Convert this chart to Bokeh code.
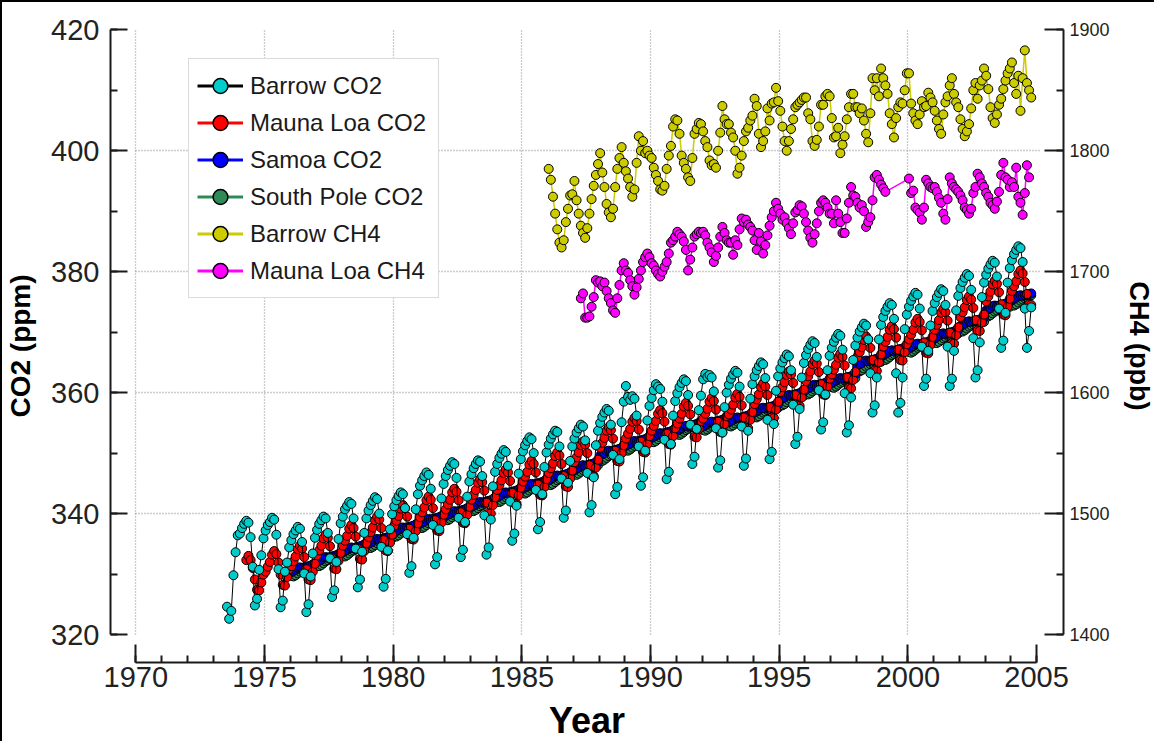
from bokeh.plotting import figure
from bokeh.models import (Range1d, LinearAxis, SingleIntervalTicker, FixedTicker,
                          Legend, LegendItem)
from bokeh.embed import file_html
from bokeh.resources import INLINE

N = None

# ---------------- data: monthly values, rows = [year, Jan..Dec] ----------------
barrow_co2 = [
 [1973, N, N, N, N, N, N, 324.6, 322.6, 323.9, 329.8, 333.6, 336.4],
 [1974, 336.7, 337.6, 338.3, 338.8, 338.5, 336.1, 331.2, 324.8, 325.9, 330.7, 333.1, 335.9],
 [1975, 337.2, 338.1, 338.6, 339.3, 339.0, 336.5, 330.8, 324.5, 325.6, 330.4, 331.9, 334.4],
 [1976, 335.6, 336.6, 337.2, 337.8, 337.5, 335.3, 330.1, 323.7, 325.0, 329.6, 333.4, 336.0],
 [1977, 337.3, 338.3, 338.9, 339.5, 339.2, 336.8, 332.6, 326.2, 327.3, 332.0, 335.8, 338.4],
 [1978, 339.5, 340.7, 341.3, 341.9, 341.6, 339.2, 334.2, 327.8, 329.1, 333.7, 336.8, 339.2],
 [1979, 340.5, 341.4, 342.1, 342.7, 342.4, 340.0, 334.5, 327.9, 329.2, 333.9, 337.4, 339.9],
 [1980, 341.2, 342.2, 342.9, 343.5, 343.2, 340.9, 336.6, 330.2, 331.3, 336.0, 340.7, 343.2],
 [1981, 344.6, 345.5, 346.2, 346.8, 346.4, 344.1, 338.1, 331.6, 332.8, 337.4, 342.5, 344.9],
 [1982, 346.2, 347.2, 347.9, 348.5, 348.2, 345.9, 339.3, 332.8, 334.0, 338.6, 342.8, 345.3],
 [1983, 346.5, 347.5, 348.2, 348.8, 348.6, 346.2, 339.7, 333.2, 334.4, 339.0, 344.5, 346.9],
 [1984, 348.2, 349.2, 349.9, 350.5, 350.2, 347.9, 342.0, 335.5, 336.7, 341.3, 346.6, 349.0],
 [1985, 350.3, 351.3, 352.0, 352.6, 352.3, 350.0, 343.9, 337.4, 338.6, 343.2, 347.7, 350.1],
 [1986, 351.4, 352.4, 353.1, 353.7, 353.5, 351.1, 345.8, 339.3, 340.5, 345.1, 348.7, 351.1],
 [1987, 352.4, 353.4, 354.1, 354.7, 354.4, 352.1, 346.7, 340.2, 341.4, 346.0, 351.3, 353.7],
 [1988, 355.0, 356.0, 356.7, 357.3, 357.0, 354.7, 349.7, 343.2, 344.4, 349.0, 355.1, 358.5],
 [1989, 361.1, 359.3, 358.8, 359.4, 359.0, 356.2, 351.1, 344.6, 346.0, 350.4, 355.4, 357.8],
 [1990, 359.1, 360.4, 361.4, 361.0, 360.6, 358.5, 352.2, 345.7, 346.9, 351.5, 356.2, 358.6],
 [1991, 359.9, 360.9, 361.6, 362.2, 361.9, 359.6, 354.7, 348.2, 349.4, 354.0, 357.1, 359.5],
 [1992, 362.2, 363.1, 362.6, 362.9, 362.5, 360.2, 354.1, 347.6, 348.8, 353.4, 357.6, 360.0],
 [1993, 361.3, 362.3, 363.0, 363.6, 363.3, 361.0, 354.4, 347.9, 349.1, 353.7, 359.0, 361.4],
 [1994, 362.7, 363.7, 364.4, 365.0, 364.7, 362.4, 355.5, 349.0, 350.2, 354.8, 360.3, 362.7],
 [1995, 364.0, 365.0, 365.7, 366.3, 366.0, 363.7, 358.0, 351.5, 352.7, 357.3, 362.5, 364.9],
 [1996, 366.2, 367.2, 367.9, 368.5, 368.2, 365.9, 360.4, 353.9, 355.1, 359.7, 363.7, 366.1],
 [1997, 367.4, 368.4, 369.1, 369.7, 369.4, 367.1, 359.9, 353.4, 354.6, 359.2, 365.4, 367.8],
 [1998, 369.1, 370.1, 370.8, 371.4, 371.1, 368.8, 363.2, 356.7, 357.9, 362.5, 368.8, 371.2],
 [1999, 372.5, 373.5, 374.2, 374.8, 374.5, 372.2, 363.2, 356.7, 358.3, 362.5, 370.5, 372.9],
 [2000, 374.2, 375.2, 375.9, 376.5, 376.2, 373.9, 367.6, 361.1, 362.3, 366.9, 371.1, 373.5],
 [2001, 374.8, 375.8, 376.5, 377.1, 376.8, 374.5, 367.6, 361.1, 362.3, 366.9, 373.6, 376.0],
 [2002, 377.3, 378.3, 379.0, 379.6, 379.3, 377.0, 369.0, 362.5, 363.7, 368.3, 375.8, 378.2],
 [2003, 379.5, 380.5, 381.2, 381.8, 381.5, 379.2, 373.9, 367.4, 368.6, 373.2, 378.2, 380.6],
 [2004, 381.9, 382.9, 383.6, 384.2, 383.9, 381.6, 373.9, 367.4, 370.2, 374.1, N, N],
]

mauna_loa_co2 = [
 [1974, N, N, N, 332.3, 333.0, 332.3, 331.0, 329.1, 327.4, 327.3, 328.6, 329.9],
 [1975, 330.4, 331.2, 332.0, 333.2, 333.8, 333.3, 331.9, 329.9, 328.2, 328.1, 329.5, 330.8],
 [1976, 331.3, 332.1, 332.9, 334.1, 334.7, 334.2, 332.8, 330.8, 329.1, 329.0, 330.4, 331.7],
 [1977, 333.1, 333.9, 334.7, 335.9, 336.5, 336.0, 334.6, 332.6, 330.9, 330.8, 332.2, 333.5],
 [1978, 334.7, 335.5, 336.3, 337.5, 338.1, 337.6, 336.2, 334.2, 332.5, 332.4, 333.8, 335.1],
 [1979, 336.1, 336.9, 337.7, 338.9, 339.5, 339.0, 337.6, 335.6, 333.9, 333.8, 335.2, 336.5],
 [1980, 338.0, 338.8, 339.6, 340.8, 341.4, 340.9, 339.5, 337.5, 335.8, 335.7, 337.1, 338.4],
 [1981, 339.4, 340.2, 341.0, 342.2, 342.8, 342.3, 340.9, 338.9, 337.2, 337.1, 338.5, 339.8],
 [1982, 340.7, 341.5, 342.3, 343.5, 344.1, 343.6, 342.2, 340.2, 338.5, 338.4, 339.8, 341.1],
 [1983, 342.3, 343.1, 343.9, 345.1, 345.7, 345.2, 343.8, 341.8, 340.1, 340.0, 341.4, 342.7],
 [1984, 343.9, 344.7, 345.5, 346.7, 347.3, 346.8, 345.4, 343.4, 341.7, 341.6, 343.0, 344.3],
 [1985, 345.3, 346.1, 346.9, 348.1, 348.7, 348.2, 346.8, 344.8, 343.1, 343.0, 344.4, 345.7],
 [1986, 346.7, 347.5, 348.3, 349.5, 350.1, 349.6, 348.2, 346.2, 344.5, 344.4, 345.8, 347.1],
 [1987, 348.5, 349.3, 350.1, 351.3, 351.9, 351.4, 350.0, 348.0, 346.3, 346.2, 347.6, 348.9],
 [1988, 350.9, 351.7, 352.5, 353.7, 354.3, 353.8, 352.4, 350.4, 348.7, 348.6, 350.0, 351.3],
 [1989, 352.4, 353.2, 354.0, 355.2, 355.8, 355.3, 353.9, 351.9, 350.2, 350.1, 351.5, 352.8],
 [1990, 353.7, 354.5, 355.3, 356.5, 357.1, 356.6, 355.2, 353.2, 351.5, 351.4, 352.8, 354.1],
 [1991, 354.9, 355.7, 356.5, 357.7, 358.3, 357.8, 356.4, 354.4, 352.7, 352.6, 354.0, 355.3],
 [1992, 355.7, 356.5, 357.3, 358.5, 359.1, 358.6, 357.2, 355.2, 353.5, 353.4, 354.8, 356.1],
 [1993, 356.4, 357.2, 358.0, 359.2, 359.8, 359.3, 357.9, 355.9, 354.2, 354.1, 355.5, 356.8],
 [1994, 358.1, 358.9, 359.7, 360.9, 361.5, 361.0, 359.6, 357.6, 355.9, 355.8, 357.2, 358.5],
 [1995, 360.1, 360.9, 361.7, 362.9, 363.5, 363.0, 361.6, 359.6, 357.9, 357.8, 359.2, 360.5],
 [1996, 361.9, 362.7, 363.5, 364.7, 365.3, 364.8, 363.4, 361.4, 359.7, 359.6, 361.0, 362.3],
 [1997, 363.0, 363.8, 364.6, 365.8, 366.4, 365.9, 364.5, 362.5, 360.8, 360.7, 362.1, 363.4],
 [1998, 365.9, 366.7, 367.5, 368.7, 369.3, 368.8, 367.4, 365.4, 363.7, 363.6, 365.0, 366.3],
 [1999, 367.6, 368.4, 369.2, 370.4, 371.0, 370.5, 369.1, 367.1, 365.4, 365.3, 366.7, 368.0],
 [2000, 368.8, 369.6, 370.4, 371.6, 372.2, 371.7, 370.3, 368.3, 366.6, 366.5, 367.9, 369.2],
 [2001, 370.4, 371.2, 372.0, 373.2, 373.8, 373.3, 371.9, 369.9, 368.2, 368.1, 369.5, 370.8],
 [2002, 372.5, 373.3, 374.1, 375.3, 375.9, 375.4, 374.0, 372.0, 370.3, 370.2, 371.6, 372.9],
 [2003, 375.1, 375.9, 376.7, 377.9, 378.5, 378.0, 376.6, 374.6, 372.9, 372.8, 374.2, 375.5],
 [2004, 376.8, 377.6, 378.4, 379.6, 380.2, 379.7, 378.3, 376.3, 374.6, 374.5, N, N],
]

samoa_co2 = [
 [1976, 330.3, 330.5, 330.7, 331.0, 331.1, 331.0, 331.1, 331.2, 331.3, 331.4, 331.6, 331.7],
 [1977, 332.0, 332.2, 332.4, 332.7, 332.8, 332.7, 332.8, 332.9, 333.0, 333.1, 333.3, 333.4],
 [1978, 333.6, 333.8, 334.0, 334.3, 334.4, 334.3, 334.4, 334.5, 334.6, 334.7, 334.9, 335.0],
 [1979, 335.0, 335.2, 335.4, 335.7, 335.8, 335.7, 335.8, 335.9, 336.0, 336.1, 336.3, 336.4],
 [1980, 336.9, 337.1, 337.3, 337.6, 337.7, 337.6, 337.7, 337.8, 337.9, 338.0, 338.2, 338.3],
 [1981, 338.3, 338.5, 338.7, 339.0, 339.1, 339.0, 339.1, 339.2, 339.3, 339.4, 339.6, 339.7],
 [1982, 339.6, 339.8, 340.0, 340.3, 340.4, 340.3, 340.4, 340.5, 340.6, 340.7, 340.9, 341.0],
 [1983, 341.1, 341.3, 341.5, 341.8, 341.9, 341.8, 341.9, 342.0, 342.1, 342.2, 342.4, 342.5],
 [1984, 342.7, 342.9, 343.1, 343.4, 343.5, 343.4, 343.5, 343.6, 343.7, 343.8, 344.0, 344.1],
 [1985, 344.1, 344.3, 344.5, 344.8, 344.9, 344.8, 344.9, 345.0, 345.1, 345.2, 345.4, 345.5],
 [1986, 345.5, 345.7, 345.9, 346.2, 346.3, 346.2, 346.3, 346.4, 346.5, 346.6, 346.8, 346.9],
 [1987, 347.2, 347.4, 347.6, 347.9, 348.0, 347.9, 348.0, 348.1, 348.2, 348.3, 348.5, 348.6],
 [1988, 349.6, 349.8, 350.0, 350.3, 350.4, 350.3, 350.4, 350.5, 350.6, 350.7, 350.9, 351.0],
 [1989, 351.2, 351.4, 351.6, 351.9, 352.0, 351.9, 352.0, 352.1, 352.2, 352.3, 352.5, 352.6],
 [1990, 352.5, 352.7, 352.9, 353.2, 353.3, 353.2, 353.3, 353.4, 353.5, 353.6, 353.8, 353.9],
 [1991, 353.7, 353.9, 354.1, 354.4, 354.5, 354.4, 354.5, 354.6, 354.7, 354.8, 355.0, 355.1],
 [1992, 354.4, 354.6, 354.8, 355.1, 355.2, 355.1, 355.2, 355.3, 355.4, 355.5, 355.7, 355.8],
 [1993, 355.1, 355.3, 355.5, 355.8, 355.9, 355.8, 355.9, 356.0, 356.1, 356.2, 356.4, 356.5],
 [1994, 356.7, 356.9, 357.1, 357.4, 357.5, 357.4, 357.5, 357.6, 357.7, 357.8, 358.0, 358.1],
 [1995, 358.8, 359.0, 359.2, 359.5, 359.6, 359.5, 359.6, 359.7, 359.8, 359.9, 360.1, 360.2],
 [1996, 360.5, 360.7, 360.9, 361.2, 361.3, 361.2, 361.3, 361.4, 361.5, 361.6, 361.8, 361.9],
 [1997, 361.6, 361.8, 362.0, 362.3, 362.4, 362.3, 362.4, 362.5, 362.6, 362.7, 362.9, 363.0],
 [1998, 364.5, 364.7, 364.9, 365.2, 365.3, 365.2, 365.3, 365.4, 365.5, 365.6, 365.8, 365.9],
 [1999, 366.2, 366.4, 366.6, 366.9, 367.0, 366.9, 367.0, 367.1, 367.2, 367.3, 367.5, 367.6],
 [2000, 367.3, 367.5, 367.7, 368.0, 368.1, 368.0, 368.1, 368.2, 368.3, 368.4, 368.6, 368.7],
 [2001, 369.0, 369.2, 369.4, 369.7, 369.8, 369.7, 369.8, 369.9, 370.0, 370.1, 370.3, 370.4],
 [2002, 371.0, 371.2, 371.4, 371.7, 371.8, 371.7, 371.8, 371.9, 372.0, 372.1, 372.3, 372.4],
 [2003, 373.6, 373.8, 374.0, 374.3, 374.4, 374.3, 374.4, 374.5, 374.6, 374.7, 374.9, 375.0],
 [2004, 375.3, 375.5, 375.7, 376.0, 376.1, 376.0, 376.1, 376.2, 376.3, 376.4, N, N],
]

south_pole_co2 = [
 [1976, 329.7, 329.6, 329.8, 330.1, 330.4, 330.6, 330.8, 331.0, 331.2, 331.3, 331.3, 331.2],
 [1977, 331.4, 331.3, 331.5, 331.8, 332.1, 332.3, 332.5, 332.7, 332.9, 333.0, 333.0, 332.9],
 [1978, 333.0, 332.9, 333.1, 333.4, 333.7, 333.9, 334.1, 334.3, 334.5, 334.6, 334.6, 334.5],
 [1979, 334.4, 334.3, 334.5, 334.8, 335.1, 335.3, 335.5, 335.7, 335.9, 336.0, 336.0, 335.9],
 [1980, 336.3, 336.2, 336.4, 336.7, 337.0, 337.2, 337.4, 337.6, 337.8, 337.9, 337.9, 337.8],
 [1981, 337.7, 337.6, 337.8, 338.1, 338.4, 338.6, 338.8, 339.0, 339.2, 339.3, 339.3, 339.2],
 [1982, 339.0, 338.9, 339.1, 339.4, 339.7, 339.9, 340.1, 340.3, 340.5, 340.6, 340.6, 340.5],
 [1983, 340.5, 340.4, 340.6, 340.9, 341.2, 341.4, 341.6, 341.8, 342.0, 342.1, 342.1, 342.0],
 [1984, 342.0, 341.9, 342.1, 342.4, 342.7, 342.9, 343.1, 343.3, 343.5, 343.6, 343.6, 343.5],
 [1985, 343.4, 343.3, 343.5, 343.8, 344.1, 344.3, 344.5, 344.7, 344.9, 345.0, 345.0, 344.9],
 [1986, 344.8, 344.7, 344.9, 345.2, 345.5, 345.7, 345.9, 346.1, 346.3, 346.4, 346.4, 346.3],
 [1987, 346.5, 346.4, 346.6, 346.9, 347.2, 347.4, 347.6, 347.8, 348.0, 348.1, 348.1, 348.0],
 [1988, 348.8, 348.7, 348.9, 349.2, 349.5, 349.7, 349.9, 350.1, 350.3, 350.4, 350.4, 350.3],
 [1989, 350.5, 350.4, 350.6, 350.9, 351.2, 351.4, 351.6, 351.8, 352.0, 352.1, 352.1, 352.0],
 [1990, 351.9, 351.8, 352.0, 352.3, 352.6, 352.8, 353.0, 353.2, 353.4, 353.5, 353.5, 353.4],
 [1991, 353.1, 353.0, 353.2, 353.5, 353.8, 354.0, 354.2, 354.4, 354.6, 354.7, 354.7, 354.6],
 [1992, 353.8, 353.7, 353.9, 354.2, 354.5, 354.7, 354.9, 355.1, 355.3, 355.4, 355.4, 355.3],
 [1993, 354.5, 354.4, 354.6, 354.9, 355.2, 355.4, 355.6, 355.8, 356.0, 356.1, 356.1, 356.0],
 [1994, 356.0, 355.9, 356.1, 356.4, 356.7, 356.9, 357.1, 357.3, 357.5, 357.6, 357.6, 357.5],
 [1995, 358.0, 357.9, 358.1, 358.4, 358.7, 358.9, 359.1, 359.3, 359.5, 359.6, 359.6, 359.5],
 [1996, 359.8, 359.7, 359.9, 360.2, 360.5, 360.7, 360.9, 361.1, 361.3, 361.4, 361.4, 361.3],
 [1997, 360.9, 360.8, 361.0, 361.3, 361.6, 361.8, 362.0, 362.2, 362.4, 362.5, 362.5, 362.4],
 [1998, 363.6, 363.5, 363.7, 364.0, 364.3, 364.5, 364.7, 364.9, 365.1, 365.2, 365.2, 365.1],
 [1999, 365.5, 365.4, 365.6, 365.9, 366.2, 366.4, 366.6, 366.8, 367.0, 367.1, 367.1, 367.0],
 [2000, 366.7, 366.6, 366.8, 367.1, 367.4, 367.6, 367.8, 368.0, 368.2, 368.3, 368.3, 368.2],
 [2001, 368.3, 368.2, 368.4, 368.7, 369.0, 369.2, 369.4, 369.6, 369.8, 369.9, 369.9, 369.8],
 [2002, 370.2, 370.1, 370.3, 370.6, 370.9, 371.1, 371.3, 371.5, 371.7, 371.8, 371.8, 371.7],
 [2003, 372.7, 372.6, 372.8, 373.1, 373.4, 373.6, 373.8, 374.0, 374.2, 374.3, 374.3, 374.2],
 [2004, 374.5, 374.4, 374.6, 374.9, 375.2, 375.4, 375.6, 375.8, 376.0, 376.1, N, N],
]

barrow_ch4 = [
 [1986, 1785, 1776, 1762, 1748, 1735, 1724, 1720, 1726, 1741, 1752, 1763, 1764],
 [1987, 1775, 1759, 1748, 1738, 1732, 1728, 1736, 1748, 1760, 1771, 1780, 1789],
 [1988, 1798, 1782, 1770, 1756, 1749, 1745, 1752, 1770, 1785, 1794, 1803, 1790],
 [1989, 1783, 1777, 1770, 1762, 1768, 1790, 1812, 1800, 1808, 1798, 1800, 1796],
 [1990, 1794, 1786, 1780, 1775, 1768, 1767, 1771, 1785, 1796, 1804, 1820, 1826],
 [1991, 1825, 1814, 1796, 1790, 1785, 1778, 1775, 1794, 1814, 1818, 1823, 1822],
 [1992, 1816, 1808, 1803, 1792, 1788, 1789, 1786, 1800, 1815, 1837, 1826, 1822],
 [1993, 1822, 1815, 1811, 1800, 1781, 1786, 1796, 1808, 1816, 1819, 1825, 1829],
 [1994, 1843, 1837, 1814, 1803, 1808, 1816, 1835, 1825, 1839, 1840, 1852, 1841],
 [1995, 1833, 1820, 1808, 1800, 1808, 1818, 1826, 1836, 1838, 1840, 1842, 1844],
 [1996, 1844, 1831, 1826, 1808, 1804, 1809, 1820, 1838, 1838, 1845, 1847, 1845],
 [1997, 1827, 1811, 1812, 1819, 1798, 1805, 1812, 1826, 1836, 1847, 1847, 1836],
 [1998, 1836, 1831, 1835, 1825, 1814, 1807, 1831, 1860, 1850, 1860, 1845, 1868],
 [1999, 1860, 1854, 1847, 1831, 1822, 1811, 1827, 1836, 1840, 1839, 1850, 1864],
 [2000, 1864, 1839, 1831, 1825, 1822, 1830, 1841, 1836, 1837, 1848, 1844, 1840],
 [2001, 1833, 1825, 1818, 1814, 1830, 1840, 1845, 1854, 1860, 1847, 1840, 1836],
 [2002, 1826, 1818, 1812, 1816, 1822, 1835, 1850, 1856, 1843, 1854, 1858, 1868],
 [2003, 1862, 1851, 1836, 1827, 1823, 1830, 1838, 1843, 1851, 1858, 1864, 1868],
 [2004, 1873, 1856, 1847, 1862, 1833, 1860, 1883, 1856, 1850, 1844, N, N],
]

mauna_loa_ch4 = [
 [1987, N, N, N, 1678, 1682, 1662, 1662, 1663, 1671, 1679, 1693, 1691],
 [1988, 1692, 1688, 1691, 1684, 1678, 1674, 1668, 1666, 1678, 1689, 1701, 1707],
 [1989, 1701, 1699, 1693, 1688, 1681, 1687, 1694, 1701, 1708, 1712, 1715, 1712],
 [1990, 1707, 1705, 1701, 1698, 1696, 1700, 1704, 1708, 1715, 1724, 1726, 1729],
 [1991, 1733, 1731, 1729, 1725, 1718, 1701, 1710, 1720, 1729, 1731, 1733, 1732],
 [1992, 1733, 1730, 1724, 1720, 1716, 1708, 1713, 1720, 1729, 1737, 1732, 1726],
 [1993, 1724, 1724, 1714, 1726, 1722, 1735, 1744, 1741, 1743, 1739, 1737, 1734],
 [1994, 1726, 1718, 1732, 1725, 1715, 1722, 1730, 1738, 1745, 1750, 1757, 1752],
 [1995, 1748, 1743, 1745, 1740, 1736, 1731, 1740, 1749, 1751, 1755, 1754, 1748],
 [1996, 1741, 1734, 1728, 1724, 1731, 1740, 1750, 1757, 1759, 1757, 1753, 1748],
 [1997, 1748, 1740, 1759, 1748, 1741, 1732, 1732, 1744, 1757, 1770, 1763, 1762],
 [1998, 1757, 1753, 1755, 1750, 1737, 1741, 1745, 1759, 1778, 1780, 1776, 1772],
 [1999, 1769, 1766, N, N, N, N, N, N, N, N, N, N],
 [2000, 1777, 1765, 1767, 1753, 1751, 1749, 1743, 1753, 1776, 1773, 1770, 1769],
 [2001, 1770, 1766, 1761, 1757, 1748, 1743, 1760, 1778, 1773, 1770, 1768, 1766],
 [2002, 1763, 1759, 1753, 1751, 1748, 1752, 1765, 1770, 1781, 1778, 1773, 1770],
 [2003, 1765, 1762, 1757, 1755, 1752, 1758, 1766, 1780, 1790, 1778, 1776, 1770],
 [2004, 1774, 1770, 1786, 1762, 1757, 1747, 1765, 1788, 1778, N, N, N],
]

series_names = ["Barrow CO2", "Mauna Loa CO2", "Samoa CO2", "South Pole CO2",
                "Barrow CH4", "Mauna Loa CH4"]
series_colors = ["#00cccc", "#ff0000", "#0000ff", "#2e8b57", "#cccc00", "#ff00ff"]
legend_line_colors = ["#000000", "#ff0000", "#0000ff", "#2e8b57", "#cccc00", "#ff00ff"]
co2_line_color = "#000000"

x_grid_ticks = [1970, 1975, 1980, 1985, 1990, 1995, 2000]
y_grid_ticks = [340, 360, 380, 400]


def to_xy(rows):
    xs, ys = [], []
    for row in rows:
        yr, vals = row[0], row[1:]
        for m, v in enumerate(vals):
            if v is not None:
                xs.append(yr + (m + 0.5) / 12.0)
                ys.append(v)
    return xs, ys


FONT = "Liberation Sans"

p = figure(width=1154, height=741, title=None,
           x_range=Range1d(1969.014, 2006.046), y_range=Range1d(315.37, 420.05),
           output_backend="svg", toolbar_location=None,
           min_border_left=108, min_border_right=88, min_border_top=27, min_border_bottom=81)
p.styles = {"border-left": "2px solid black", "border-top": "2px solid black"}
p.outline_line_color = None
p.background_fill_color = "white"
p.border_fill_color = "white"

p.extra_y_ranges = {"ch4": Range1d(1376.85, 1900.25)}

# grids
p.xgrid.ticker = FixedTicker(ticks=x_grid_ticks)
p.ygrid.ticker = FixedTicker(ticks=y_grid_ticks)
for g in (p.xgrid[0], p.ygrid[0]):
    g.grid_line_color = "#999999"
    g.grid_line_dash = "1 2"
    g.grid_line_width = 1.3
p.xgrid[0].cross_bounds = (320, 420)
p.ygrid[0].cross_bounds = (1970, 2005.2)


def style_axis(ax, tick_in, label_size, standoff):
    ax.axis_line_color = "#1a1a1a"
    ax.axis_line_width = 2
    ax.major_tick_line_color = "#1a1a1a"
    ax.major_tick_line_width = 2
    ax.minor_tick_line_color = "#1a1a1a"
    ax.minor_tick_line_width = 2
    ax.major_tick_in = tick_in
    ax.major_tick_out = 0
    ax.minor_tick_in = 7
    ax.minor_tick_out = 0
    ax.major_label_text_font = FONT
    ax.major_label_text_font_size = label_size
    ax.major_label_text_color = "#222222"
    ax.major_label_standoff = standoff


def style_title(ax, size, standoff):
    ax.axis_label_text_font = FONT
    ax.axis_label_text_font_size = size
    ax.axis_label_text_font_style = "bold"
    ax.axis_label_text_color = "black"
    ax.axis_label_standoff = standoff


xax = p.xaxis[0]
xax.ticker = SingleIntervalTicker(interval=5, num_minor_ticks=5)
xax.bounds = (1970, 2005)
style_axis(xax, 18, "29px", 4)
xax.axis_label = "Year"
style_title(xax, "36px", 10)

yax = p.yaxis[0]
yax.ticker = SingleIntervalTicker(interval=20, num_minor_ticks=2)
yax.bounds = (320, 420)
style_axis(yax, 17, "29px", 11)
yax.axis_label = "CO2 (ppm)"
style_title(yax, "28px", 12)

rax = LinearAxis(y_range_name="ch4", ticker=SingleIntervalTicker(interval=100, num_minor_ticks=2),
                 bounds=(1400, 1900))
style_axis(rax, 19, "18px", 6)
rax.axis_label = "CH4 (ppb)"
style_title(rax, "27px", 11)
p.add_layout(rax, "right")

# data series (draw order: South Pole, Samoa, Mauna Loa, Barrow)
co2_sets = [(south_pole_co2, 3), (samoa_co2, 2), (mauna_loa_co2, 1), (barrow_co2, 0)]
for rows, i in co2_sets:
    xs, ys = to_xy(rows)
    p.line(xs, ys, line_color=co2_line_color, line_width=1)
    p.scatter(xs, ys, marker="circle", size=9, fill_color=series_colors[i],
              line_color="black", line_width=1)

for rows, i in [(barrow_ch4, 4), (mauna_loa_ch4, 5)]:
    xs, ys = to_xy(rows)
    p.line(xs, ys, line_color=series_colors[i], line_width=1.5, y_range_name="ch4")
    p.scatter(xs, ys, marker="circle", size=9, fill_color=series_colors[i],
              line_color="black", line_width=1, y_range_name="ch4")

# legend glyphs: helper renderers holding a single NaN point (nothing drawn in the plot)
nan = float("nan")
items = []
for name, lc, fc in zip(series_names, legend_line_colors, series_colors):
    lr = p.line(x=[nan], y=[nan], line_color=lc, line_width=3)
    sr = p.scatter(x=[nan], y=[nan], marker="circle", size=16, fill_color=fc,
                   line_color="black", line_width=1.5)
    items.append(LegendItem(label=name, renderers=[lr, sr]))

legend = Legend(items=items, location=(78, 364), orientation="vertical",
                glyph_width=46, glyph_height=37, label_height=37, label_width=180,
                spacing=0, padding=8, margin=0, label_standoff=7,
                label_text_font=FONT, label_text_font_size="24px", label_text_color="#1a1a1a",
                border_line_color="#b8b8b8", border_line_width=1,
                background_fill_color="white", background_fill_alpha=1.0)
p.add_layout(legend, "center")

open("out.html", "w").write(file_html(p, INLINE))
